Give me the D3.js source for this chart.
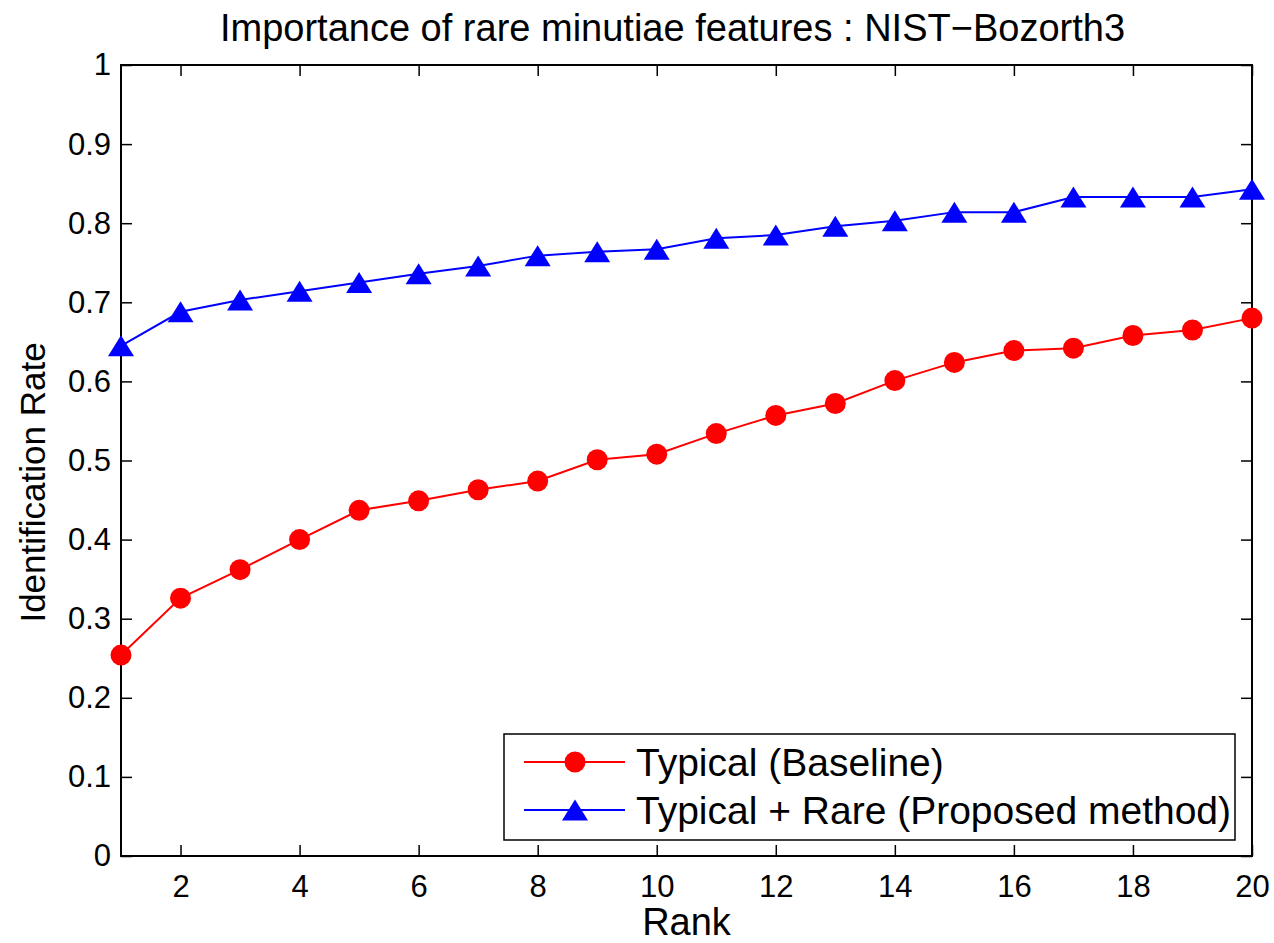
<!DOCTYPE html>
<html>
<head>
<meta charset="utf-8">
<script src="https://cdn.jsdelivr.net/npm/d3@7"></script>
<style>
  html, body { margin: 0; padding: 0; background: #fff; }
  svg { display: block; font-family: "Liberation Sans", Arial, Helvetica, sans-serif; }
</style>
</head>
<body>
<svg id="chart" width="1274" height="943"></svg>
<script>
const ranks = [1,2,3,4,5,6,7,8,9,10,11,12,13,14,15,16,17,18,19,20];
const baseline = [0.254,0.326,0.362,0.400,0.437,0.449,0.463,0.474,0.501,0.508,0.534,0.557,0.572,0.601,0.624,0.639,0.642,0.658,0.665,0.680];
const proposed = [0.645,0.688,0.703,0.714,0.725,0.736,0.746,0.759,0.764,0.767,0.781,0.785,0.796,0.803,0.814,0.814,0.833,0.833,0.833,0.843];
const xTicks = [2,4,6,8,10,12,14,16,18,20];
const yTicks = [0,0.1,0.2,0.3,0.4,0.5,0.6,0.7,0.8,0.9,1];
const seriesNames = ["Typical (Baseline)", "Typical + Rare (Proposed method)"];
const titleText = "Importance of rare minutiae features : NIST\u2212Bozorth3";
const xLabelText = "Rank";
const yLabelText = "Identification Rate";

const svg = d3.select("#chart");
const L = 121, R = 1252, T = 65, B = 856;
const x = d3.scaleLinear().domain([1, 20]).range([L, R]);
const y = d3.scaleLinear().domain([0, 1]).range([B, T]);

const tickLen = 11;
const fmtY = d => d === 0 ? "0" : d === 1 ? "1" : d3.format(".1f")(d);

// Axes with inward ticks on all four sides
const gB = svg.append("g").attr("transform", `translate(0,${B})`)
  .call(d3.axisBottom(x).tickValues(xTicks).tickSizeInner(-tickLen).tickSizeOuter(0).tickPadding(19).tickFormat(d3.format("d")));
const gT = svg.append("g").attr("transform", `translate(0,${T})`)
  .call(d3.axisTop(x).tickValues(xTicks).tickSizeInner(-tickLen).tickSizeOuter(0).tickFormat(""));
const gL = svg.append("g").attr("transform", `translate(${L},0)`)
  .call(d3.axisLeft(y).tickValues(yTicks).tickSizeInner(-tickLen).tickSizeOuter(0).tickPadding(10).tickFormat(fmtY));
const gR = svg.append("g").attr("transform", `translate(${R},0)`)
  .call(d3.axisRight(y).tickValues(yTicks).tickSizeInner(-tickLen).tickSizeOuter(0).tickFormat(""));

[gB, gT, gL, gR].forEach(g => {
  g.selectAll("path.domain").remove();
  g.selectAll(".tick line").attr("stroke", "#000").attr("stroke-width", 1.5);
  g.selectAll(".tick text").attr("fill", "#000").attr("font-size", 31)
    .attr("font-family", "'Liberation Sans', Arial, sans-serif");
});

// Box
svg.append("rect").attr("x", L).attr("y", T).attr("width", R - L).attr("height", B - T)
  .attr("fill", "none").attr("stroke", "#000").attr("stroke-width", 2);

// Lines
const line = d3.line().x((d, i) => x(ranks[i])).y(d => y(d));
svg.append("path").datum(baseline).attr("d", line)
  .attr("fill", "none").attr("stroke", "#ff0000").attr("stroke-width", 2);
svg.append("path").datum(proposed).attr("d", line)
  .attr("fill", "none").attr("stroke", "#0000ff").attr("stroke-width", 2);

const triPath = (cx, cy) => {
  const w = 13, h = 10.5;
  return `M${cx},${cy - h}L${cx + w},${cy + h}L${cx - w},${cy + h}Z`;
};

svg.append("g").selectAll("circle").data(baseline).join("circle")
  .attr("cx", (d, i) => x(ranks[i])).attr("cy", d => y(d)).attr("r", 10.5)
  .attr("fill", "#ff0000");
svg.append("g").selectAll("path").data(proposed).join("path")
  .attr("d", (d, i) => triPath(x(ranks[i]), y(d)))
  .attr("fill", "#0000ff");

// Title and labels
svg.append("text").attr("x", (L + R) / 2 - 14).attr("y", 41).attr("text-anchor", "middle")
  .attr("font-size", 38).attr("fill", "#000").text(titleText);
svg.append("text").attr("x", (L + R) / 2).attr("y", 935).attr("text-anchor", "middle")
  .attr("font-size", 38).attr("fill", "#000").text(xLabelText);
svg.append("text").attr("transform", `translate(45,${(T + B) / 2 + 22}) rotate(-90)`)
  .attr("text-anchor", "middle").attr("font-size", 35).attr("fill", "#000").text(yLabelText);

// Legend
const lg = svg.append("g");
lg.append("rect").attr("x", 504).attr("y", 734).attr("width", 731).attr("height", 106)
  .attr("fill", "#fff").attr("stroke", "#000").attr("stroke-width", 1.5);
const rows = [762, 810];
lg.append("line").attr("x1", 524).attr("x2", 625).attr("y1", rows[0]).attr("y2", rows[0])
  .attr("stroke", "#ff0000").attr("stroke-width", 2);
lg.append("circle").attr("cx", 575).attr("cy", rows[0]).attr("r", 10.5).attr("fill", "#ff0000");
lg.append("line").attr("x1", 524).attr("x2", 625).attr("y1", rows[1]).attr("y2", rows[1])
  .attr("stroke", "#0000ff").attr("stroke-width", 2);
lg.append("path").attr("d", triPath(575, rows[1])).attr("fill", "#0000ff");
seriesNames.forEach((s, i) => {
  lg.append("text").attr("x", 636).attr("y", rows[i] + 14).attr("font-size", 39)
    .attr("fill", "#000").text(s);
});
</script>
</body>
</html>
